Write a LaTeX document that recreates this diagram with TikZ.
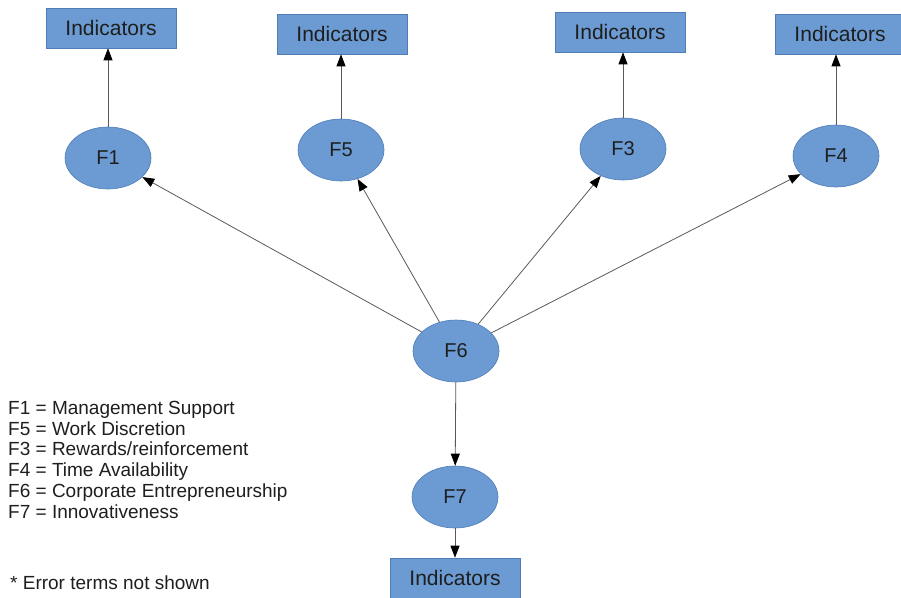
\documentclass[tikz,border=0pt]{standalone}
\usepackage{fontspec}
\setmainfont{Liberation Sans}
\usetikzlibrary{arrows.meta,shapes.geometric}
\definecolor{boxfill}{HTML}{6B9BD2}
\definecolor{boxline}{HTML}{4F7DB8}
\definecolor{ink}{HTML}{1E1E1E}
\begin{document}
\begin{tikzpicture}[x=1pt,y=-1pt,
  factor/.style={ellipse,draw=boxline,fill=boxfill,line width=0.6pt,minimum width=86pt,minimum height=62pt,inner sep=0pt,font=\fontsize{20}{24}\selectfont,text=ink},
  indbox/.style={rectangle,draw=boxline,fill=boxfill,line width=0.6pt,minimum width=130pt,minimum height=40pt,inner sep=0pt,font=\fontsize{21}{25}\selectfont,text=ink},
  link/.style={draw=black!65,line width=0.8pt,-{Triangle[length=12pt,width=9pt,color=black]}},
  legend/.style={anchor=base west,inner sep=0pt,font=\fontsize{19}{22}\selectfont,text=ink}]
\useasboundingbox (0,0) rectangle (901,597);
% measurement indicator boxes
\node[indbox] (i1) at (111,28) {Indicators};
\node[indbox] (i5) at (342,34) {Indicators};
\node[indbox] (i3) at (620,32) {Indicators};
\node[indbox] (i4) at (840,34) {Indicators};
\node[indbox] (i7) at (455,578) {Indicators};
% latent factors
\node[factor] (f1) at (108,158) {F1};
\node[factor] (f5) at (341,150) {F5};
\node[factor] (f3) at (623,149) {F3};
\node[factor] (f4) at (836,156) {F4};
\node[factor] (f6) at (456,351) {F6};
\node[factor] (f7) at (455,497) {F7};
% structural paths
\draw[link] (f6) -- (f1);
\draw[link] (f6) -- (f5);
\draw[link] (f6) -- (f3);
\draw[link] (f6) -- (f4);
\draw[link] (f6) -- (f7);
% measurement paths, drawn straight up/down from each factor
\draw[link] (f1.north) -- (f1.north |- i1.south);
\draw[link] (f5.north) -- (f5.north |- i5.south);
\draw[link] (f3.north) -- (f3.north |- i3.south);
\draw[link] (f4.north) -- (f4.north |- i4.south);
\draw[link] (f7.south) -- (f7.south |- i7.north);
% legend, one line per factor on an even baseline grid
\node[legend] (l1) at (8,414) {F1 = Management Support};
\node[legend] (l2) at (8,435) {F5 = Work Discretion};
\node[legend] (l3) at (8,455.5) {F3 = Rewards/reinforcement};
\node[legend] (l4) at (8,476) {F4 = Time Availability};
\node[legend] (l5) at (8,497) {F6 = Corporate Entrepreneurship};
\node[legend] (l6) at (8,518) {F7 = Innovativeness};
\node[legend] (note) at (10,589) {* Error terms not shown};
\end{tikzpicture}
\end{document}
